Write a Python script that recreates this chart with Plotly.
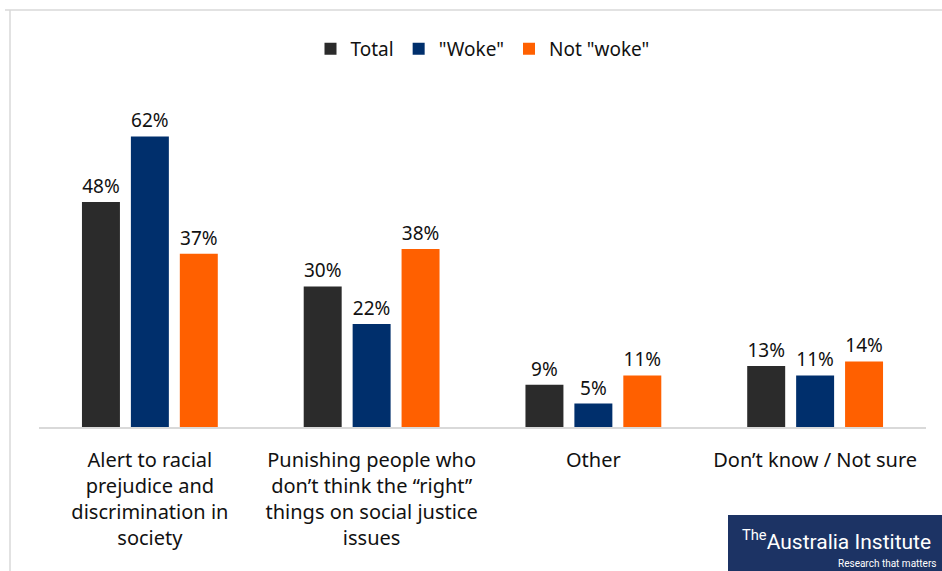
import plotly.graph_objects as go

categories = [
    "Alert to racial<br>prejudice and<br>discrimination in<br>society",
    "Punishing people who<br>don’t think the “right”<br>things on social justice<br>issues",
    "Other",
    "Don’t know / Not sure",
]
series_names = ["Total", "\"Woke\"", "Not \"woke\""]
total = [48, 30, 9, 13]
woke = [62, 22, 5, 11]
not_woke = [37, 38, 11, 14]
colors = ["#2b2b2b", "#002f6c", "#ff6000"]

W, H = 942, 571
L, R, T, B = 39, 16, 99, 144
pw = W - L - R
ph = H - T - B

def px_x(x):
    return (x - L) / pw

def px_y(y):
    return (H - B - y) / ph

fig = go.Figure()
for name, vals, col in zip(series_names, [total, woke, not_woke], colors):
    fig.add_trace(go.Bar(
        x=categories, y=vals, name=name,
        marker=dict(color=col, line=dict(width=0)),
        text=[f"{v}%" for v in vals], textposition="outside",
        textfont=dict(family="Noto Sans", size=19, color="#111111"),
        cliponaxis=False,
    ))

fig.update_layout(
    width=W, height=H,
    margin=dict(l=L, r=R, t=T, b=B, autoexpand=False),
    paper_bgcolor="white", plot_bgcolor="white",
    barmode="group", bargap=0.338, bargroupgap=0.224,
    font=dict(family="Noto Sans", color="#111111"),
    showlegend=True,
    legend=dict(orientation="h", x=0.5, xanchor="center", y=px_y(30), yanchor="top",
                font=dict(family="Noto Sans", size=19, color="#111111"),
                itemwidth=30, tracegroupgap=0, traceorder="normal"),
    xaxis=dict(showline=True, linecolor="#d9d9d9", linewidth=1.5, ticks="",
               tickfont=dict(family="Noto Sans", size=20, color="#111111"),
               ticklabelstandoff=14, showgrid=False, zeroline=False),
    yaxis=dict(range=[0, 70], visible=False, showgrid=False, zeroline=False),
    shapes=[
        dict(type="line", xref="paper", yref="paper", x0=px_x(5), x1=px_x(942), y0=px_y(10), y1=px_y(10),
             line=dict(color="#d9d9d9", width=1.5)),
        dict(type="line", xref="paper", yref="paper", x0=px_x(10), x1=px_x(10), y0=px_y(10), y1=px_y(571),
             line=dict(color="#d9d9d9", width=1.5)),
        dict(type="rect", xref="paper", yref="paper", x0=px_x(728), x1=px_x(945), y0=px_y(515), y1=px_y(572),
             fillcolor="#1c3364", line=dict(width=0), layer="above"),
    ],
    annotations=[
        dict(xref="paper", yref="paper", x=px_x(740), y=px_y(540), xanchor="left", yanchor="middle",
             text="<sup style='font-size:10px'>The</sup>Australia Institute", showarrow=False,
             font=dict(family="Roboto", size=21, color="white")),
        dict(xref="paper", yref="paper", x=px_x(938), y=px_y(563), xanchor="right", yanchor="middle",
             text="Research that matters", showarrow=False,
             font=dict(family="Roboto", size=10, color="white")),
    ],
)

fig.write_html("out.html", config={"displayModeBar": False},
               post_script="document.body.style.margin='0';document.body.style.overflow='hidden';")
